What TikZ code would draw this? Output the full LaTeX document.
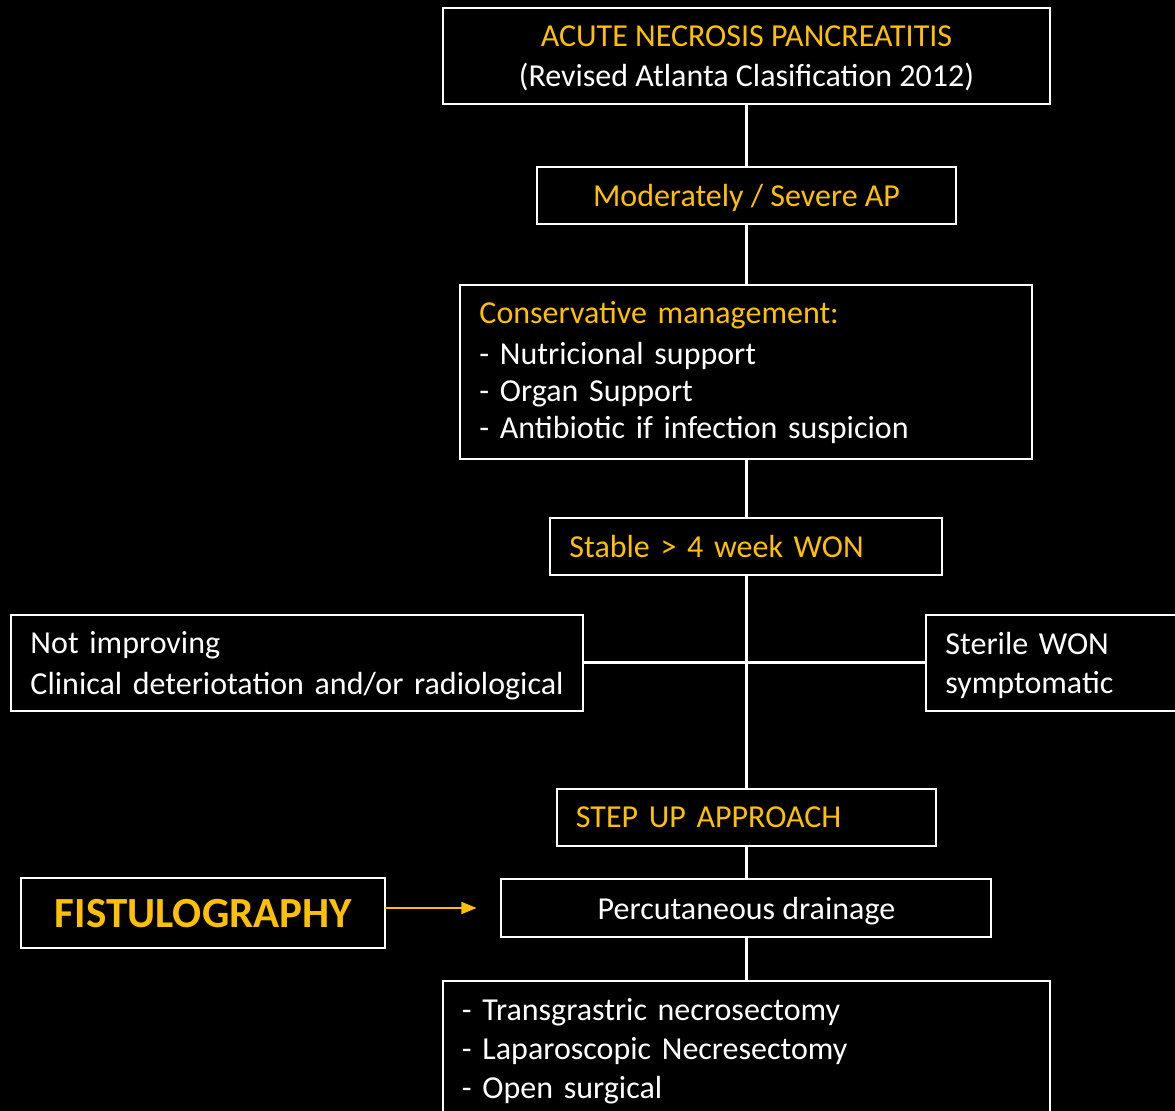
\documentclass[tikz,border=0pt]{standalone}
\usepackage{fontspec}
\setmainfont{Carlito}
\usepackage{tikz}
\usetikzlibrary{positioning,arrows.meta}
\definecolor{gold}{HTML}{FFC000}
\tikzstyle{edge}=[
	-,
	draw=white,
	line width=1.5pt
]
\tikzstyle{pointer}=[
	-{Triangle[length=7.5pt,width=6pt]},
	draw=gold,
	line width=0.8pt
]
\tikzstyle{caja}=[
    draw=white,
    line width=1pt,
    fill=black,
    text=white,
    outer sep=0pt,
    inner xsep=9.5pt,
    inner ysep=0pt,
    text depth=0pt,
    font=\fontsize{16}{20}\selectfont
]

\begin{document}
\begin{tikzpicture}
\path[use as bounding box, fill=black] (-373.25pt,28pt) rectangle (214.25pt,-527.5pt);
\clip (-373.25pt,28pt) rectangle (214.25pt,-527.5pt);

\node[caja, minimum width=303.5pt, minimum height=48pt, align=center] (1) {\textcolor{gold}{ACUTE NECROSIS PANCREATITIS}\\(Revised Atlanta Clasification 2012)};
\node[caja, below=31.5pt of 1, minimum width=209.5pt, minimum height=28.5pt, text=gold] (2) {Moderately / Severe AP};
\node[caja, below=30.5pt of 2, text width=267pt, text depth=59.5pt, minimum height=87pt, align=left, font=\fontsize{16}{18.5}\selectfont] (3) {\textcolor{gold}{Conservative management:}\\[2pt]- Nutricional support\\- Organ Support\\- Antibiotic if infection suspicion};
\node[caja, below=29.5pt of 3, text width=177pt, minimum height=28.5pt, align=left, text=gold] (4) {Stable > 4 week WON};
\coordinate[below=44pt of 4] (split);
\node[caja, left=81.5pt of split, text width=267pt, text depth=20pt, minimum height=48pt, align=left] (5) {Not improving\\Clinical deteriotation and/or radiological};
\node[caja, right=90pt of split, text width=111pt, text depth=19.5pt, minimum height=48pt, align=left, font=\fontsize{16}{19.5}\selectfont] (6) {Sterile WON\\symptomatic};
\node[caja, below=63pt of split, text width=170.5pt, minimum height=28.5pt, align=left, text=gold] (7) {STEP UP APPROACH};
\node[caja, below=16.5pt of 7, minimum width=245pt, minimum height=29pt] (8) {Percutaneous drainage};
\node[caja, left=58pt of 8, yshift=-2.5pt, minimum width=182pt, minimum height=35pt, text=gold, font=\fontsize{21.5}{24}\selectfont\bfseries] (9) {FISTULOGRAPHY};
\node[caja, below=22pt of 8, text width=284.5pt, text depth=38.5pt, minimum height=67.5pt, align=left, font=\fontsize{16}{19.25}\selectfont] (10) {- Transgrastric necrosectomy\\- Laparoscopic Necresectomy\\- Open surgical};
\coordinate[left=12.5pt of 8] (tip);

\draw[edge] (1) to (2);
\draw[edge] (2) to (3);
\draw[edge] (3) to (4);
\draw[edge] (4) to (7);
\draw[edge] (5) to (6);
\draw[edge] (7) to (8);
\draw[edge] (8) to (10);
\draw[pointer] (9.east |- 8) to (tip);
\end{tikzpicture}
\end{document}
